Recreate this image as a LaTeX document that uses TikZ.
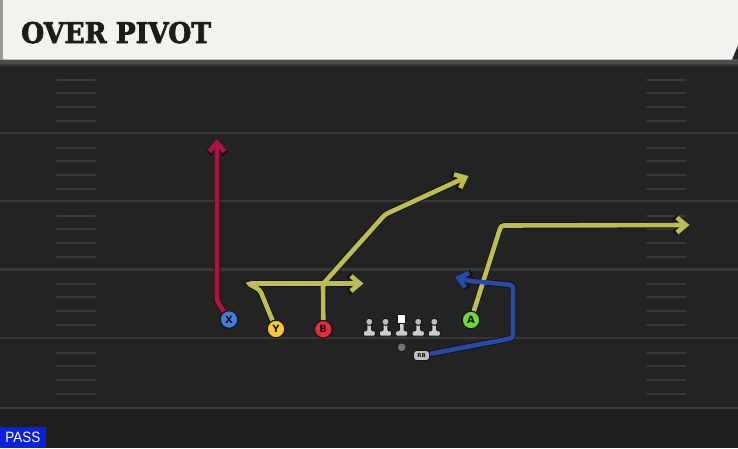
\documentclass[tikz,border=0pt]{standalone}
\usepackage{fontspec}
\usetikzlibrary{arrows.meta}
\newfontfamily\titlefont{DejaVu Serif}[BoldFeatures={FakeBold=2.5}]
\newfontfamily\labelfont{DejaVu Sans}
\newfontfamily\passfont{Liberation Sans}
\definecolor{fieldbg}{HTML}{232323}
\definecolor{fieldlow}{HTML}{1F1F1F}
\definecolor{yardc}{HTML}{393939}
\definecolor{headerc}{HTML}{F4F2EC}
\definecolor{outl}{HTML}{141414}
\definecolor{titlec}{HTML}{1C1C1C}
\definecolor{redroute}{HTML}{B0143C}
\definecolor{yelroute}{HTML}{BEBE4E}
\definecolor{bluroute}{HTML}{2A4AA8}
\definecolor{xcol}{HTML}{3C7FE0}
\definecolor{ycol}{HTML}{F4C72E}
\definecolor{bcol}{HTML}{E0303E}
\definecolor{acol}{HTML}{6ED83A}
\definecolor{linec}{HTML}{CDCDCD}
\definecolor{passc}{HTML}{0A22E0}
\tikzset{
  yard/.style={draw=yardc, line width=2.2pt},
  hashm/.style={draw=yardc, line width=2pt, line cap=round},
  player/.style={circle, draw=outl, line width=1pt, minimum size=17.5pt, inner sep=0pt,
    font=\labelfont\bfseries\fontsize{10}{10}\selectfont, text=outl},
  routeout/.style={draw=outl, line width=6.5pt, rounded corners=3pt,
    -{Straight Barb[length=10pt,width=17pt]}},
  routein/.style={line width=4.6pt, rounded corners=3pt,
    -{Straight Barb[length=9pt,width=15pt]}},
  lineman/.pic={
    \filldraw[fill=linec, draw=outl, line width=0.9pt, rounded corners=1pt]
      (-6,336) -- (-6,330.8) -- (-2.3,330.8) -- (-2.3,323) -- (2.3,323) -- (2.3,330.8) -- (6,330.8) -- (6,336) -- cycle;
    \filldraw[fill=linec!80!gray, draw=outl, line width=0.9pt] (0,321.8) circle (3.6);
  },
  centerman/.pic={
    \filldraw[fill=linec, draw=outl, line width=0.9pt, rounded corners=1pt]
      (-6,336) -- (-6,330.8) -- (-2.3,330.8) -- (-2.3,322) -- (2.3,322) -- (2.3,330.8) -- (6,330.8) -- (6,336) -- cycle;
    \filldraw[fill=white, draw=outl, line width=0.9pt] (-4.2,314) rectangle (4.2,323);
  }
}
\begin{document}
\begin{tikzpicture}[x=1pt,y=-1pt]
\useasboundingbox (0,0) rectangle (738,448);
\fill[fieldbg] (0,0) rectangle (738,448);
\fill[fieldlow] (0,408) rectangle (738,448);
\fill[black!70] (0,59) rectangle (738,64);
\fill[black!40] (0,0) rectangle (3,60);
% header
\fill[headerc] (3,0) -- (738,0) -- (738,45) -- (732,59.5) -- (3,59.5) -- cycle;
\node[anchor=base west, inner sep=0pt, text=titlec] (title) at (21,43)
  {\scalebox{0.93}[1]{\titlefont\bfseries\fontsize{28.5}{28.5}\selectfont OVER PIVOT}};
% yard lines
\foreach \y in {65,133,201,269.5,338,408} \draw[yard] (0,\y) -- (738,\y);
\foreach \y in {65,133,201,269.5,338}{
  \foreach \o in {14.5,27.5,41.5,55.5}{
    \draw[hashm] (57,\y+\o) -- (95,\y+\o);
    \draw[hashm] (647,\y+\o) -- (685,\y+\o);
  }
}
% players
\node[player, fill=xcol] (X) at (229,319.5) {X};
\node[player, fill=ycol] (Y) at (276,329) {Y};
\node[player, fill=bcol] (B) at (323.3,329.3) {B};
\node[player, fill=acol] (A) at (471,320) {A};
% line
\pic at (369.3,0) {lineman};
\pic at (385.5,0) {lineman};
\pic at (401.7,0) {centerman};
\pic at (418.2,0) {lineman};
\pic at (434.3,0) {lineman};
\node[circle, fill=black!55, draw=outl, line width=0.8pt, minimum size=9pt, inner sep=0pt] (QB) at (401.7,347.3) {};
\node[rounded corners=3pt, fill=black!25, draw=outl, line width=0.9pt, minimum width=16pt, minimum height=10pt, inner sep=0pt,
  font=\labelfont\bfseries\fontsize{5.5}{5.5}\selectfont, text=outl] (RB) at (421.5,355.5) {RB};
% route coordinates
\coordinate (x1) at (217,301);
\coordinate (x2) at (217,139);
\coordinate (y1) at (260,290);
\coordinate (y2) at (248,283.5);
\coordinate (y3) at (363.5,283.5);
\coordinate (b1) at (323,284);
\coordinate (b2) at (385,214.5);
\coordinate (b3) at (468.5,176);
\coordinate (a1) at (501,225.5);
\coordinate (a2) at (689.5,225);
\coordinate (r1) at (513,338);
\coordinate (r2) at (513,285);
\coordinate (r3) at (470,281);
\coordinate (r4) at (455,277);
% routes (outline then colour)
\draw[routeout] (X) -- (x1) -- (x2);
\draw[routeout] (Y) -- (y1) -- (y2) -- (y3);
\draw[routeout] (B) -- (b1) -- (b2) -- (b3);
\draw[routeout] (A) -- (a1) -- (a2);
\draw[routeout] (RB) -- (r1) -- (r2) -- (r3) -- (r4);
\draw[routein, draw=redroute] (X) -- (x1) -- (x2);
\draw[routein, draw=yelroute] (Y) -- (y1) -- (y2) -- (y3);
\draw[routein, draw=yelroute] (B) -- (b1) -- (b2) -- (b3);
\draw[routein, draw=yelroute] (A) -- (a1) -- (a2);
\draw[routein, draw=bluroute] (RB) -- (r1) -- (r2) -- (r3) -- (r4);
% redraw players on top
\node[player, fill=xcol] at (X) {X};
\node[player, fill=ycol] at (Y) {Y};
\node[player, fill=bcol] at (B) {B};
\node[player, fill=acol] at (A) {A};
% PASS tag
\node[anchor=south west, fill=passc, minimum width=45.5pt, minimum height=21pt, inner sep=0pt,
  text=white, font=\passfont\fontsize{15}{15}\selectfont] (pass) at (0,448) {\scalebox{0.9}[1]{PASS}};
\end{tikzpicture}
\end{document}
